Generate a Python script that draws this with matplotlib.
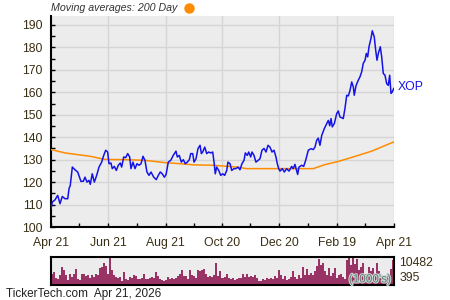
import datetime
import numpy as np
import matplotlib
matplotlib.use("Agg")
import matplotlib.pyplot as plt
import matplotlib.dates as mdates
import matplotlib.patheffects as pe
from matplotlib.lines import Line2D

plt.rcParams['font.family'] = ['Liberation Sans', 'DejaVu Sans']

start = datetime.date(2025, 4, 21)
end = datetime.date(2026, 4, 21)

# price: days after start, closing price
price_days = [0, 1.4, 4.3, 7.1, 9.6, 12, 14.9, 17.8, 19.2, 20.5,
              22.7, 25.5, 28.4, 31.9, 34.4, 36.2, 38.3, 40.4, 41.8, 43.9,
              46.1, 48.6, 51.1, 53.9, 56.1, 58.2, 60.3, 61.7, 63.8, 65.2,
              67.4, 69.5, 71.6, 73.7, 75.2, 77.4, 79.5, 81.6, 83.7, 85.1,
              87.2, 89.4, 91.5, 93.6, 95.8, 97.9, 100, 102.1, 104.3, 106.4,
              109.3, 112, 114.2, 116.3, 118.4, 120.6,
              122.4, 124.8, 127.4, 130.1, 133, 134.4, 136.5, 138.7, 140.8, 142.9,
              145, 147.2, 148.7, 150.8, 152.2, 154.3, 156.4, 158.6, 160, 161.4,
              163.6, 165.7, 167.8, 169.9, 172.1, 173.5, 174.8, 176.3, 178.5, 180.6,
              182.7, 184.8, 187, 188.3, 190.5, 192.3, 194.7, 196.9, 199, 201.1,
              203.2, 205.4, 206.8, 208.9, 210.4, 212.5, 213.9, 216, 218.1, 220.3,
              222.4, 224.5, 226.7, 228.8, 230.9, 233, 235.2, 237.3, 239.4, 240.8, 242.3,
              243.7, 246.1, 248.3, 250.8, 253.3, 256.1, 257.8, 259.6, 262.5, 263.9,
              266.8, 268.9,
              271, 273.8, 276.7, 279.1, 280.9, 282.7, 284.4, 286.2, 288.1, 290.8,
              293.4, 295.1, 296.6, 298, 299.3, 301.5, 304, 305.7, 307.5, 309.3,
              311, 312.8, 314.7, 316.4, 318.2, 320, 321.7, 322.7, 324.6, 327,
              328.8, 330.6, 332.3, 334.2, 335.5, 337, 338.4, 340.5, 341.9, 344,
              345.5, 346.9, 348.3, 350.4, 351.9, 353.6, 355.4, 357.2, 358.9, 360.4,
              361.8, 363.2, 364.7]
price = [108.1, 111.1, 112.1, 114.1, 110.4, 113.6, 112.6, 112.6, 117.1, 118.5,
         126.7, 125.5, 124.5, 120.3, 120.4, 122.2, 120.0, 120.8, 119.0, 123.7,
         120.0, 123.0, 126.7, 128.9, 131.9, 134.2, 133.4, 128.2, 128.5, 126.0,
         127.0, 125.2, 127.5, 128.5, 126.7, 131.2, 130.9, 132.7, 131.2, 126.0,
         128.9, 126.0, 128.2, 127.5, 128.2, 131.5, 129.7, 124.5, 123.0, 124.5,
         122.2, 121.1, 123.0, 124.5, 123.7, 122.2,
         123.3, 128.9, 129.7, 131.9, 133.8, 131.2, 131.9, 128.9, 130.0, 128.2,
         128.9, 130.0, 132.7, 132.7, 128.9, 130.4, 134.9, 136.4, 132.7, 133.4,
         135.6, 132.7, 133.4, 133.0, 133.4, 128.9, 123.7, 126.7, 125.2, 123.0,
         123.7, 123.0, 125.2, 128.9, 128.2, 125.2, 126.0, 126.0, 126.7, 125.5,
         128.2, 129.7, 133.0, 131.9, 133.4, 131.2, 133.4, 131.9, 128.9, 129.7,
         130.4, 134.2, 135.0, 133.4, 136.4, 135.6, 133.4, 134.2, 131.2, 128.2, 126.0,
         124.9, 126.0, 124.5, 126.0, 124.9, 127.0, 126.0, 127.9, 123.4, 126.7,
         127.5, 127.0,
         129.7, 134.2, 134.9, 134.5, 135.6, 138.6, 139.6, 136.4, 140.8, 143.8,
         146.1, 147.5, 145.1, 148.3, 144.6, 146.1, 150.5, 151.7, 149.0, 148.7,
         148.3, 152.8, 158.7, 158.4, 160.9, 164.6, 162.4, 158.7, 163.0, 165.4,
         166.9, 169.1, 172.9, 174.3, 177.3, 175.8, 180.3, 184.0, 187.4, 184.7,
         178.8, 174.3, 177.3, 180.3, 175.8, 168.4, 167.6, 163.9, 163.1, 167.6,
         159.5, 160.2, 161.7]

# 200 day moving average
ma_days = [0, 14.9, 25.5, 41.8, 57.5, 78.7, 100, 120.6, 137.3, 151.4,
           172.7, 197.6, 208.2, 242.3, 279.1, 291.6, 305.7, 327, 341.3, 364.7]
ma_200 = [134.5, 133.0, 132.4, 131.5, 130.1, 130.0, 129.7, 128.7, 128.2, 127.7,
          127.5, 126.7, 126.0, 126.0, 126.0, 127.8, 129.2, 131.9, 133.8, 137.9]

# volume in thousands
volume = [4090, 4720, 2730, 2200, 3770, 6710, 5660, 3770, 1890, 4090,
          3040, 3980, 5970, 2200, 1890, 4090, 4090, 3350, 3770, 2620,
          3770, 3040, 4090, 3770, 6390, 6710, 8280, 7130, 4090, 10482,
          5660, 3770, 3040, 2620, 3040, 1470, 4820, 2200, 1890, 3040,
          2620, 3770, 3350, 2200, 2200, 2620, 4090, 2200, 2200, 2620,
          3040, 2620, 4820, 3350, 2200, 1890, 1470, 1890,
          3040, 2200, 2620, 2200, 2620, 3350, 4090, 5660, 3350, 3350,
          2200, 5660, 3770, 3350, 2620, 5660, 5240, 5660, 5970, 4090,
          3040, 3350, 3040, 3770, 8280, 3350, 5240, 2620, 3040, 4090,
          2620, 2200, 2620, 1890, 2200, 2620, 2620, 4090, 3040, 4090,
          3040, 3350, 3040, 3770, 2620, 1470, 1470, 2200, 1890, 2620,
          2200, 2620, 2200, 3350, 2620, 5660, 3770,
          2200, 3350, 1890, 2200, 3040, 5240, 3040, 2200, 3770, 2620,
          6710, 3770, 5970, 3770, 4510, 3770, 5240, 7130, 9750, 7440,
          8280, 5240, 3770, 6390, 3350, 4510, 6390, 2620, 3770, 4090,
          3040, 2200, 9330, 10300, 7440, 10200, 7860, 9750, 5660, 6710,
          8280, 4090, 4090, 6710, 5240, 6390, 4090, 8280, 5240, 3350,
          3040, 2200, 3350, 2620, 5970, 9330]

tick_dates = [datetime.date(2025, 4, 21), datetime.date(2025, 6, 21),
              datetime.date(2025, 8, 21), datetime.date(2025, 10, 20),
              datetime.date(2025, 12, 20), datetime.date(2026, 2, 19),
              datetime.date(2026, 4, 21)]
tick_labels = ['Apr 21', 'Jun 21', 'Aug 21', 'Oct 20', 'Dec 20', 'Feb 19', 'Apr 21']
minor_dates = [datetime.date(2025, 5, 21), datetime.date(2025, 7, 21),
               datetime.date(2025, 9, 20), datetime.date(2025, 11, 19),
               datetime.date(2026, 1, 19), datetime.date(2026, 3, 21)]

blue = '#1414e6'
orange = '#ff8c00'
txt = '#3a2e14'
bg = '#ececec'

t0 = mdates.date2num(start)
x_price = t0 + np.array(price_days)
x_ma = t0 + np.array(ma_days)

fig = plt.figure(figsize=(4.5, 3), dpi=100)
ax = fig.add_axes([51/450, 73/300, 343/450, 211/300])
ax.set_facecolor(bg)
ax.plot(x_ma, ma_200, color=orange, lw=1.1, zorder=3)
ax.plot(x_price, price, color=blue, lw=1.1, zorder=4)

ax.set_xlim(t0, mdates.date2num(end))
ax.set_ylim(100, 194)
ax.set_xticks([mdates.date2num(d) for d in tick_dates])
ax.set_xticklabels(tick_labels)
ax.set_xticks([mdates.date2num(d) for d in minor_dates], minor=True)
ax.set_yticks(np.arange(100, 191, 10))
ax.set_yticks(np.arange(105, 191, 10), minor=True)
ax.tick_params(which='both', direction='in', length=3, width=1, color='black',
               labelsize=8.8, labelcolor=txt)
ax.tick_params(axis='y', pad=6)
ax.tick_params(axis='x', pad=7)
ax.grid(True, which='major', color='#d5d5d5', lw=1)
ax.set_axisbelow(True)
for s in ['top', 'right']:
    ax.spines[s].set_visible(False)
for s in ['left', 'bottom']:
    ax.spines[s].set_linewidth(1.5)

ax.annotate('XOP', xy=(x_price[-1], price[-1]), xytext=(3, 1),
            textcoords='offset points', va='center', ha='left',
            color=blue, fontsize=8.8, annotation_clip=False)

fig.text(51/450, 1 - 8/300, 'Moving averages: 200 Day', style='italic',
         fontsize=7.7, color='#333333', va='center', ha='left')
fig.add_artist(Line2D([189/450], [1 - 7.5/300], marker='o', color=orange,
                      markersize=6.5, transform=fig.transFigure))

# volume panel
axv = fig.add_axes([51/450, 15/300, 343/450, 28/300])
axv.set_facecolor(bg)
axv.bar(np.arange(len(volume)), volume, width=1.0, color='#993366', lw=0)
axv.set_xlim(-0.5, len(volume) - 0.5)
axv.set_ylim(0, 10482)
axv.set_xticks([])
axv.yaxis.tick_right()
axv.set_yticks([395, 10482])
axv.set_yticklabels(['395', '10482'])
axv.tick_params(axis='y', length=0, pad=4, labelsize=8.8, labelcolor=txt)
axv.get_yticklabels()[0].set_va('bottom')
axv.get_yticklabels()[1].set_va('top')
for s in axv.spines.values():
    s.set_linewidth(1.5)
axv.text(0.93, 0.2, "(1000's)", transform=axv.transAxes, ha='center',
         va='center', fontsize=8.5, color='#5f7a70',
         path_effects=[pe.withStroke(linewidth=1.5, foreground='#cfd8d4')])

fig.text(6/450, 1 - 294/300, 'TickerTech.com  Apr 21, 2026', fontsize=8.5,
         color='#222222', va='center', ha='left')

fig.savefig('out.png', dpi=100)
